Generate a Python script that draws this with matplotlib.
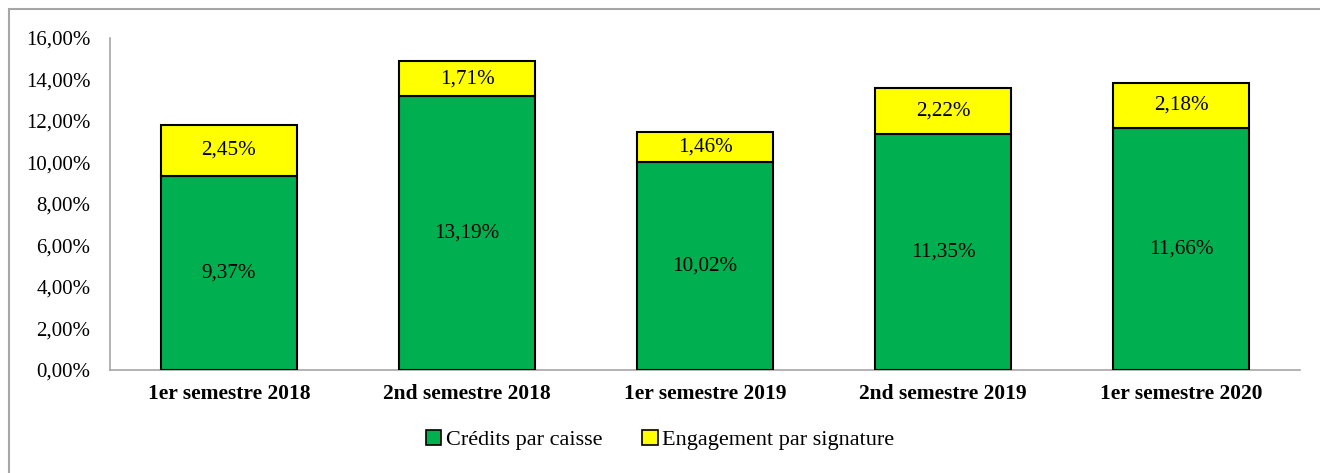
import matplotlib
matplotlib.use("Agg")
import matplotlib.pyplot as plt
from matplotlib.patches import Rectangle
from matplotlib.ticker import FuncFormatter

categories = ["1er semestre 2018", "2nd semestre 2018", "1er semestre 2019",
              "2nd semestre 2019", "1er semestre 2020"]
credits = [9.37, 13.19, 10.02, 11.35, 11.66]
engagement = [2.45, 1.71, 1.46, 2.22, 2.18]
series_names = ["Crédits par caisse", "Engagement par signature"]
yticks = [0, 2, 4, 6, 8, 10, 12, 14, 16]

plt.rcParams['font.family'] = ['Liberation Serif', 'DejaVu Serif']

fig = plt.figure(figsize=(13.2, 4.73), dpi=100)
W, H = 1320, 473
ax = fig.add_axes([110 / W, 1 - 370 / H, 1190 / W, 332 / H])

x = list(range(len(categories)))
bw = 0.57
b1 = ax.bar(x, credits, width=bw, color="#00B050", edgecolor="black", linewidth=1.5,
            label=series_names[0], zorder=3)
b2 = ax.bar(x, engagement, width=bw, bottom=credits, color="#FFFF00", edgecolor="black",
            linewidth=1.5, label=series_names[1], zorder=3)

for xi, c, e in zip(x, credits, engagement):
    ax.text(xi, c / 2, f"{c:.2f}%".replace(".", ","), ha="center", va="center", fontsize=15.2)
    ax.text(xi, c + e / 2, f"{e:.2f}%".replace(".", ","), ha="center", va="center", fontsize=15.2)

ax.set_xlim(-0.5, len(categories) - 0.5)
ax.set_ylim(0, 16)
ax.set_yticks(yticks)
ax.yaxis.set_major_formatter(FuncFormatter(lambda v, p: f"{v:.2f}%".replace(".", ",")))
ax.set_xticks(x)
ax.set_xticklabels(categories, fontweight="bold", fontsize=15.5)
ax.tick_params(axis="y", length=0, labelsize=15, pad=14)
ax.tick_params(axis="x", length=0, pad=10)
for s in ["top", "right"]:
    ax.spines[s].set_visible(False)
for s in ["left", "bottom"]:
    ax.spines[s].set_color("#A6A6A6")
    ax.spines[s].set_linewidth(1.2)

leg = fig.legend(handles=[b1, b2], labels=series_names, loc="center",
                 bbox_to_anchor=(660 / W, 1 - 440 / H), ncol=2, frameon=False,
                 fontsize=16, handlelength=0.7, handleheight=0.7, handletextpad=0.2,
                 columnspacing=1.8)
for h in leg.legend_handles:
    h.set_linewidth(1.2)

# outer chart border (partially cut off)
fig.patches.append(Rectangle((9 / W, -0.1), 2.0, 1 - 9 / H + 0.1, transform=fig.transFigure,
                             fill=False, edgecolor="#A6A6A6", linewidth=1.5))

fig.savefig("out.png", dpi=100)
